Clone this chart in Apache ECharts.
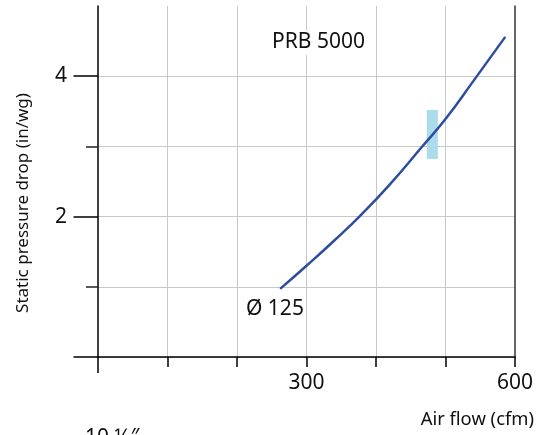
<!DOCTYPE html>
<html>
<head>
<meta charset="utf-8">
<script src="https://cdn.jsdelivr.net/npm/echarts@6/dist/echarts.min.js"></script>
<style>html,body{margin:0;padding:0;background:#fff}#c{width:546px;height:435px}</style>
</head>
<body>
<div id="c"></div>
<script>
// Data
var airFlow = [262, 300, 340, 380, 420, 465, 500, 540, 586];              // cfm
var pressureDrop = [0.97, 1.30, 1.66, 2.04, 2.46, 2.98, 3.39, 3.93, 4.56]; // in/wg
var xLabels = [300, 600];
var yLabels = [2, 4];
var bandX = [473, 489];
var bandY = [2.82, 3.52];
var seriesName = 'PRB 5000';
var diameterLabel = 'Ø 125';

var FONT = 'Noto Sans';
var chart = echarts.init(document.getElementById('c'));
var lineData = airFlow.map(function (x, i) { return [x, pressureDrop[i]]; });

chart.setOption({
  animation: false,
  backgroundColor: '#fff',
  textStyle: { fontFamily: FONT },
  grid: { left: 98, right: 31, top: 6, bottom: 78 },
  xAxis: [{
    type: 'value', min: 0, max: 600, interval: 100, position: 'bottom',
    axisLine: { show: true, lineStyle: { color: '#000', width: 1.5 } },
    axisTick: { show: true, length: 10, lineStyle: { color: '#000', width: 1.5 } },
    axisLabel: {
      margin: 16, fontSize: 21, color: '#111', fontFamily: FONT,
      formatter: function (v) { return xLabels.indexOf(v) >= 0 ? String(v) : ''; }
    },
    splitLine: { show: true, showMinLine: false, showMaxLine: false, lineStyle: { color: '#c8c8c8', width: 1 } },
    name: 'Air flow (cfm)', nameLocation: 'end', nameGap: 19,
    nameTextStyle: { fontSize: 18.4, color: '#111', fontFamily: FONT, align: 'right', verticalAlign: 'top', padding: [54, 0, 0, 0] }
  }, {
    type: 'value', min: 0, max: 600, interval: 100, position: 'bottom',
    axisLine: { show: false },
    axisTick: { show: true, length: 16, customValues: [0], lineStyle: { color: '#000', width: 1.5 } },
    axisLabel: { show: false },
    splitLine: { show: false }
  }],
  yAxis: [{
    type: 'value', min: 0, max: 5, interval: 1, position: 'left',
    axisLine: { show: true, lineStyle: { color: '#000', width: 1.5 } },
    axisTick: { show: true, length: 12, customValues: [1, 3], lineStyle: { color: '#222', width: 1.5 } },
    axisLabel: { show: false },
    splitLine: { show: true, lineStyle: { color: '#c8c8c8', width: 1 } },
    name: 'Static pressure drop (in/wg)', nameLocation: 'middle', nameGap: 66,
    nameTextStyle: { fontSize: 17, color: '#111', fontFamily: FONT, padding: [0, 43, 0, 0] }
  }, {
    type: 'value', min: 0, max: 5, interval: 1, position: 'left',
    axisLine: { show: false },
    axisTick: { show: true, length: 24.5, customValues: [0, 2, 4], lineStyle: { color: '#000', width: 1.5 } },
    axisLabel: {
      margin: 31, fontSize: 21, color: '#111', fontFamily: FONT,
      formatter: function (v) { return yLabels.indexOf(v) >= 0 ? String(v) : ''; }
    },
    splitLine: { show: true, lineStyle: { color: '#c8c8c8', width: 1 } }
  }, {
    type: 'value', min: 0, max: 5, position: 'right',
    axisLine: { show: true, onZero: false, lineStyle: { color: '#333', width: 1.5 } },
    axisTick: { show: false }, axisLabel: { show: false }, splitLine: { show: false }
  }],
  series: [{
    type: 'line', xAxisIndex: 0, yAxisIndex: 0, data: [], z: 1,
    markArea: {
      silent: true,
      itemStyle: { color: '#acdcec' },
      data: [[{ coord: [bandX[0], bandY[1]] }, { coord: [bandX[1], bandY[0]] }]]
    }
  }, {
    name: seriesName, type: 'line', xAxisIndex: 0, yAxisIndex: 0, z: 3,
    data: lineData, smooth: 0.5, symbol: 'none',
    lineStyle: { color: '#2d4e9e', width: 2.5 }
  }],
  graphic: [
    { type: 'text', left: 270, top: 30, z: 10, style: { text: seriesName, font: '21px "Noto Sans"', fill: '#111', backgroundColor: '#fff', padding: [2, 2, 2, 2] } },
    { type: 'text', left: 246, top: 299, z: 10, style: { text: diameterLabel, font: '21px "Noto Sans"', fill: '#111' } },
    { type: 'text', left: 85, top: 428, z: 10, style: { text: '10 ½″', font: '21px "Noto Sans"', fill: '#111' } }
  ]
});
</script>
</body>
</html>
